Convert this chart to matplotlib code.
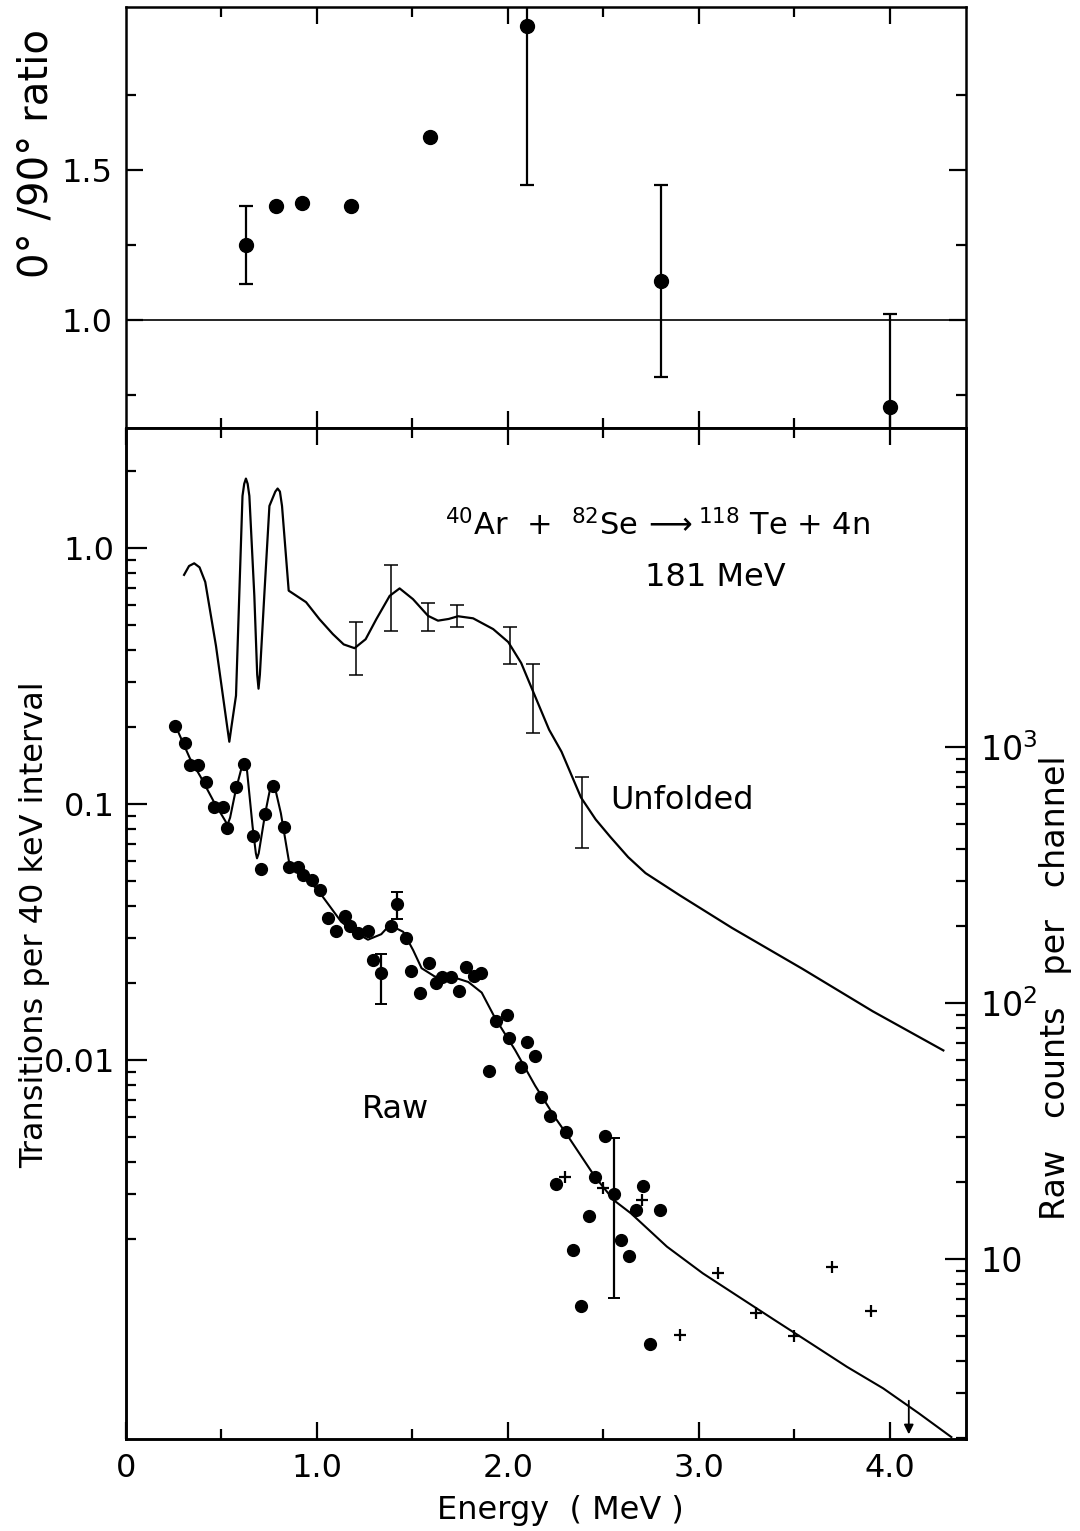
import numpy as np
import matplotlib.pyplot as plt
from matplotlib.ticker import FixedLocator, FixedFormatter, NullFormatter

plt.rcParams['font.family'] = ['DejaVu Sans']
plt.rcParams['mathtext.default'] = 'regular'

# ---- top panel: 0/90 degree ratio ----
ratio_e = [0.63, 0.785, 0.92, 1.18, 1.59, 2.10, 2.80, 4.00]
ratio = [1.25, 1.38, 1.39, 1.38, 1.61, 1.98, 1.13, 0.71]
ratio_bar_idx = [0, 5, 6, 7]
ratio_bar_lo = [1.12, 1.45, 0.81, 0.50]
ratio_bar_hi = [1.38, 2.20, 1.45, 1.02]

# ---- bottom panel: unfolded spectrum (transitions per 40 keV) ----
unf_e = [0.304, 0.330, 0.357, 0.385, 0.415, 0.471, 0.530, 0.541, 0.552, 0.576,
         0.610, 0.619, 0.628, 0.637, 0.646, 0.672, 0.687, 0.694, 0.701, 0.724,
         0.751, 0.782, 0.794, 0.806, 0.817, 0.852, 0.943, 1.013, 1.083, 1.140,
         1.197, 1.255, 1.311, 1.381, 1.433, 1.503, 1.582, 1.634, 1.690, 1.739,
         1.818, 1.923, 2.002, 2.070, 2.133, 2.216, 2.281, 2.383, 2.460, 2.537,
         2.630, 2.721, 2.900, 3.174, 3.543, 3.911, 4.281]
unf_val = [0.785, 0.850, 0.871, 0.840, 0.736, 0.415, 0.200, 0.175, 0.200, 0.265,
           1.596, 1.780, 1.866, 1.780, 1.596, 0.650, 0.320, 0.282, 0.320, 0.650,
           1.459, 1.660, 1.706, 1.660, 1.459, 0.681, 0.614, 0.527, 0.461, 0.420,
           0.406, 0.440, 0.527, 0.650, 0.695, 0.631, 0.543, 0.520, 0.528, 0.541,
           0.531, 0.482, 0.429, 0.355, 0.274, 0.195, 0.160, 0.106, 0.0870, 0.0743,
           0.0620, 0.0537, 0.0440, 0.0328, 0.0227, 0.0155, 0.0109]
unf_bar_e = [1.206, 1.386, 1.582, 1.736, 2.012, 2.133, 2.388]
unf_bar_lo = [0.319, 0.475, 0.475, 0.489, 0.351, 0.190, 0.0671]
unf_bar_hi = [0.515, 0.859, 0.611, 0.599, 0.489, 0.351, 0.128]

# ---- raw spectrum (counts per channel, right axis) ----
raw_e = [0.259, 0.308, 0.334, 0.378, 0.417, 0.460, 0.510, 0.531, 0.575, 0.619,
         0.663, 0.706, 0.728, 0.770, 0.825, 0.851, 0.899, 0.925, 0.974, 1.016,
         1.057, 1.101, 1.148, 1.171, 1.215, 1.267, 1.293, 1.337, 1.386, 1.421,
         1.468, 1.494, 1.542, 1.587, 1.622, 1.655, 1.704, 1.742, 1.783, 1.823,
         1.861, 1.901, 1.938, 1.994, 2.006, 2.068, 2.099, 2.143, 2.173, 2.222,
         2.250, 2.303, 2.339, 2.381, 2.425, 2.459, 2.509, 2.555, 2.594, 2.632,
         2.670, 2.710, 2.746, 2.795]
raw_counts = [1213, 1035, 851, 851, 733, 585, 585, 482, 697, 859,
              450, 333, 548, 705, 486, 341, 341, 317, 303, 277,
              215, 191, 219, 201, 188, 191, 147, 131, 200, 243,
              179, 133, 110, 143, 120, 126, 126, 112, 138, 128,
              131, 54.5, 84.9, 89.6, 73.0, 56.3, 70.6, 62.1, 43.2, 36.2,
              19.6, 31.5, 10.9, 6.56, 14.8, 21.0, 30.4, 18.0, 11.9, 10.3,
              15.6, 19.3, 4.66, 15.6]
raw_bar_idx = [27, 29, 57]
raw_bar_lo = [99.6, 214, 7.06]
raw_bar_hi = [156, 272, 29.7]

cross_e = [2.30, 2.50, 2.70, 2.90, 3.10, 3.30, 3.50, 3.70, 3.90]
cross_counts = [20.9, 18.9, 17.1, 5.04, 8.81, 6.15, 5.01, 9.35, 6.29]

fit_e = [0.259, 0.334, 0.390, 0.460, 0.520, 0.531, 0.545, 0.575, 0.605, 0.619,
         0.633, 0.663, 0.680, 0.686, 0.695, 0.729, 0.755, 0.768, 0.781, 0.811,
         0.855, 0.917, 1.004, 1.127, 1.197, 1.267, 1.337, 1.381, 1.452, 1.504,
         1.548, 1.618, 1.705, 1.793, 1.863, 1.933, 2.038, 2.143, 2.249, 2.300,
         2.456, 2.555, 2.645, 2.833, 3.021, 3.210, 3.398, 3.587, 3.776, 3.966,
         4.153, 4.323]
fit_counts = [1213, 906, 767, 612, 515, 497, 530, 681, 830, 851,
              820, 489, 385, 368, 385, 552, 690, 711, 690, 552,
              352, 321, 277, 208, 190, 177, 186, 202, 190, 161,
              137, 127, 127, 121, 110, 87.5, 65.6, 47.6, 35.6, 31.4,
              21.0, 17.0, 15.1, 11.2, 8.81, 7.13, 5.78, 4.69, 3.80, 3.13,
              2.50, 2.02]

counts_per_transition = 6000.0
endpoint_e = 4.10

fig = plt.figure(figsize=(10.8, 15.31), dpi=100)
ax_top = fig.add_axes([0.1167, 0.7203, 0.7778, 0.2750])
ax = fig.add_axes([0.1167, 0.0599, 0.7778, 0.6604])

lw_spine = 1.8
tick_fs = 23

# ---------- top panel ----------
ax_top.axhline(1.0, color='black', lw=1.2)
ax_top.plot(ratio_e, ratio, 'o', color='black', ms=10)
be = [ratio_e[i] for i in ratio_bar_idx]
bv = np.array([ratio[i] for i in ratio_bar_idx])
ax_top.errorbar(be, bv, yerr=[bv - np.array(ratio_bar_lo), np.array(ratio_bar_hi) - bv],
                fmt='none', ecolor='black', elinewidth=1.6, capsize=5, capthick=1.6)
ax_top.set_xlim(0, 4.40)
ax_top.set_ylim(0.639, 2.042)
ax_top.xaxis.set_major_locator(FixedLocator([1, 2, 3, 4]))
ax_top.xaxis.set_minor_locator(FixedLocator([0.5, 1.5, 2.5, 3.5]))
ax_top.yaxis.set_major_locator(FixedLocator([1.0, 1.5]))
ax_top.yaxis.set_major_formatter(FixedFormatter(['1.0', '1.5']))
ax_top.yaxis.set_minor_locator(FixedLocator([0.75, 1.25, 1.75]))
ax_top.tick_params(which='both', direction='in', top=True, bottom=True, left=True, right=True,
                   labelbottom=False, width=1.6, labelsize=tick_fs, pad=10)
ax_top.tick_params(which='major', length=12)
ax_top.tick_params(which='minor', length=7)
fig.text(0.034, 0.900, '0° /90° ratio', rotation=90, fontsize=29, ha='center', va='center')

# ---------- bottom panel ----------
ax.set_yscale('log')
ax.plot(unf_e, unf_val, color='black', lw=1.6)
lo = np.array(unf_bar_lo)
hi = np.array(unf_bar_hi)
ax.errorbar(unf_bar_e, lo, yerr=[np.zeros_like(lo), hi - lo], fmt='none', ecolor='black',
            elinewidth=1.1, capsize=5, capthick=1.1)
ax.set_xlim(0, 4.40)
ylo, yhi = 3.30e-4, 2.935
ax.set_ylim(ylo, yhi)

ax_raw = ax.twinx()
ax_raw.set_yscale('log')
ax_raw.set_ylim(ylo * counts_per_transition, yhi * counts_per_transition)
ax_raw.plot(fit_e, fit_counts, color='black', lw=1.5)
ax_raw.plot(raw_e, raw_counts, 'o', color='black', ms=8.5)
ax_raw.plot(cross_e, cross_counts, '+', color='black', ms=8, mew=1.6)
rb_e = [raw_e[i] for i in raw_bar_idx]
rb_v = np.array([raw_counts[i] for i in raw_bar_idx])
ax_raw.errorbar(rb_e, rb_v, yerr=[rb_v - np.array(raw_bar_lo), np.array(raw_bar_hi) - rb_v],
                fmt='none', ecolor='black', elinewidth=1.6, capsize=4.5, capthick=1.4)
ax_raw.annotate('', xy=(endpoint_e, ylo * counts_per_transition * 1.02),
                xytext=(endpoint_e, ylo * counts_per_transition * 1.45),
                arrowprops=dict(arrowstyle='-|>', color='black', lw=1.3, mutation_scale=14))

# x axis
ax.xaxis.set_major_locator(FixedLocator([0, 1, 2, 3, 4]))
ax.xaxis.set_major_formatter(FixedFormatter(['0', '1.0', '2.0', '3.0', '4.0']))
ax.xaxis.set_minor_locator(FixedLocator([0.5, 1.5, 2.5, 3.5]))
ax.tick_params(axis='x', which='both', direction='in', top=True, bottom=True,
               width=1.6, labelsize=tick_fs, pad=10)
ax.tick_params(axis='x', which='major', length=12)
ax.tick_params(axis='x', which='minor', length=7)

# left y axis
left_minor = [m * d for d in (0.001, 0.01, 0.1) for m in range(2, 10)] + [2.0]
ax.yaxis.set_major_locator(FixedLocator([0.01, 0.1, 1.0]))
ax.yaxis.set_major_formatter(FixedFormatter(['0.01', '0.1', '1.0']))
ax.yaxis.set_minor_locator(FixedLocator(left_minor))
ax.yaxis.set_minor_formatter(NullFormatter())
ax.tick_params(axis='y', which='both', direction='in', left=True, right=False,
               width=1.6, labelsize=tick_fs, pad=8)
ax.tick_params(axis='y', which='major', length=15)
ax.tick_params(axis='y', which='minor', length=7)

# right y axis
right_minor = [m * d for d in (1, 10, 100) for m in range(2, 10)]
ax_raw.yaxis.set_major_locator(FixedLocator([10, 100, 1000]))
ax_raw.yaxis.set_major_formatter(FixedFormatter(['10', '$10^2$', '$10^3$']))
ax_raw.yaxis.set_minor_locator(FixedLocator(right_minor))
ax_raw.yaxis.set_minor_formatter(NullFormatter())
ax_raw.tick_params(axis='y', which='both', direction='in', right=True, left=False,
                   width=1.6, labelsize=tick_fs + 1, pad=10)
ax_raw.tick_params(axis='y', which='major', length=15)
ax_raw.tick_params(axis='y', which='minor', length=7)

for a in (ax_top, ax, ax_raw):
    for s in a.spines.values():
        s.set_linewidth(lw_spine)

# labels and annotations
fig.text(0.032, 0.396, 'Transitions per 40 keV interval', rotation=90, fontsize=23,
         ha='center', va='center')
fig.text(0.977, 0.355, 'Raw   counts   per   channel', rotation=90, fontsize=24,
         ha='center', va='center')
fig.text(0.519, 0.0137, 'Energy  ( MeV )', fontsize=23, ha='center', va='center')

ax.text(0.380, 0.894, r'$^{40}$Ar  +  $^{82}$Se$\,\longrightarrow^{118}$ Te + 4n',
        transform=ax.transAxes, fontsize=22, ha='left', va='baseline')
ax.text(0.701, 0.852, '181 MeV', transform=ax.transAxes, fontsize=23, ha='center', va='center')
ax.text(0.576, 0.632, 'Unfolded', transform=ax.transAxes, fontsize=23, ha='left', va='center')
ax.text(0.281, 0.326, 'Raw', transform=ax.transAxes, fontsize=23, ha='left', va='center')

fig.savefig('out.png', dpi=100)
